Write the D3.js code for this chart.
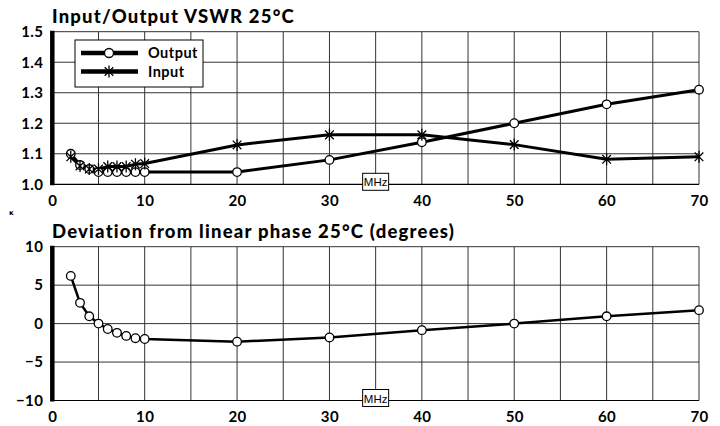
<!DOCTYPE html>
<html>
<head>
<meta charset="utf-8">
<script src="https://cdn.jsdelivr.net/npm/d3@7"></script>
<style>
  body { margin: 0; background: #fff; }
  svg { display: block; }
  .tick text { font-family: Lato, "DejaVu Sans", sans-serif; font-weight: 700; font-size: 15px; fill: #000; letter-spacing: 0.4px; }
  .title { font-family: Lato, "DejaVu Sans", sans-serif; font-weight: 900; font-size: 18.5px; letter-spacing: 1.2px; }
</style>
</head>
<body>
<div id="chart"></div>
<script>
// frequencies in MHz
var freq = [2, 3, 4, 5, 6, 7, 8, 9, 10, 20, 30, 40, 50, 60, 70];
// VSWR values
var vswrOut = [1.10, 1.063, 1.05, 1.04, 1.04, 1.04, 1.04, 1.04, 1.04, 1.04, 1.08, 1.138, 1.20, 1.262, 1.31];
var vswrIn  = [1.09, 1.06, 1.05, 1.05, 1.058, 1.058, 1.058, 1.066, 1.068, 1.129, 1.162, 1.162, 1.13, 1.082, 1.09];
// deviation from linear phase, degrees
var phaseDev = [6.2, 2.7, 0.95, 0, -0.7, -1.2, -1.6, -1.9, -2.0, -2.35, -1.8, -0.85, 0, 0.95, 1.75];

var xTicks = [0, 10, 20, 30, 40, 50, 60, 70];
var xGrid = d3.range(0, 71, 5);
var vswrTicks = [1.0, 1.1, 1.2, 1.3, 1.4, 1.5];
var phaseTicks = [-10, -5, 0, 5, 10];

var W = 720, H = 426;
var svg = d3.select("#chart").append("svg").attr("width", W).attr("height", H);

var x = d3.scaleLinear().domain([0, 70]).range([52.3, 699]);

// draw one panel
function panel(opts) {
  var y = d3.scaleLinear().domain(opts.domain).range([opts.bottom, opts.top]);
  var g = svg.append("g");

  // vertical grid
  g.append("g").selectAll("line").data(xGrid.slice(1)).enter().append("line")
    .attr("x1", function(d) { return x(d); }).attr("x2", function(d) { return x(d); })
    .attr("y1", opts.top).attr("y2", opts.bottom)
    .attr("stroke", "#333").attr("stroke-width", 1);
  // horizontal grid
  g.append("g").selectAll("line").data(opts.ticks.slice(1)).enter().append("line")
    .attr("x1", x(0)).attr("x2", x(70))
    .attr("y1", function(d) { return y(d); }).attr("y2", function(d) { return y(d); })
    .attr("stroke", "#333").attr("stroke-width", 1);
  // bottom axis line
  g.append("line").attr("x1", x(0)).attr("x2", x(70)).attr("y1", opts.bottom).attr("y2", opts.bottom)
    .attr("stroke", "#000").attr("stroke-width", 1.2);
  // thick left axis
  g.append("line").attr("x1", x(0)).attr("x2", x(0)).attr("y1", opts.top - 1).attr("y2", opts.bottom + 1)
    .attr("stroke", "#000").attr("stroke-width", 4.5);

  // tick labels
  var ay = d3.axisLeft(y).tickValues(opts.ticks).tickSize(0).tickPadding(9).tickFormat(opts.fmt);
  var gy = g.append("g").attr("transform", "translate(" + x(0) + ",0)").call(ay);
  gy.select(".domain").remove();

  var ax = d3.axisBottom(x).tickValues(xTicks).tickSize(0).tickPadding(11).tickFormat(d3.format("d"));
  var gx = g.append("g").attr("transform", "translate(0," + opts.bottom + ")").call(ax);
  gx.select(".domain").remove();

  // title
  g.append("text").attr("class", "title").attr("x", 52).attr("y", opts.top - 9).text(opts.title);

  // MHz box
  var mb = g.append("g").attr("transform", "translate(" + x(35) + "," + (opts.bottom - 2) + ")");
  mb.append("rect").attr("x", -13).attr("y", -9).attr("width", 26).attr("height", 17)
    .attr("fill", "#fff").attr("stroke", "#000").attr("stroke-width", 1);
  mb.append("text").attr("x", 0).attr("y", 4).attr("text-anchor", "middle")
    .attr("font-family", "Liberation Sans, Arial, sans-serif").attr("font-size", 11.5).text("MHz");

  return { g: g, y: y };
}

function drawLine(g, y, vals, w) {
  var line = d3.line().x(function(d, i) { return x(freq[i]); }).y(function(d) { return y(d); });
  g.append("path").datum(vals).attr("d", line)
    .attr("fill", "none").attr("stroke", "#000").attr("stroke-width", w).attr("stroke-linejoin", "round");
}

function drawCircles(g, y, vals) {
  g.append("g").selectAll("circle").data(vals).enter().append("circle")
    .attr("cx", function(d, i) { return x(freq[i]); }).attr("cy", function(d) { return y(d); })
    .attr("r", 4.3).attr("fill", "#fff").attr("stroke", "#000").attr("stroke-width", 1.3);
}

function starPath(cx, cy, s) {
  var d = s * 0.72;
  return "M" + (cx - d) + "," + (cy - d) + "L" + (cx + d) + "," + (cy + d) +
         "M" + (cx - d) + "," + (cy + d) + "L" + (cx + d) + "," + (cy - d) +
         "M" + cx + "," + (cy - s) + "L" + cx + "," + (cy + s);
}

function drawStars(g, y, vals) {
  g.append("g").selectAll("path").data(vals).enter().append("path")
    .attr("d", function(d, i) { return starPath(x(freq[i]), y(d), 6); })
    .attr("stroke", "#000").attr("stroke-width", 1.3).attr("fill", "none");
}

// top: VSWR
var p1 = panel({ domain: [1.0, 1.5], top: 31.7, bottom: 184.3, ticks: vswrTicks,
  fmt: d3.format(".1f"), title: "Input/Output VSWR 25°C" });
drawLine(p1.g, p1.y, vswrOut, 3);
drawLine(p1.g, p1.y, vswrIn, 3);
drawCircles(p1.g, p1.y, vswrOut);
drawStars(p1.g, p1.y, vswrIn);

// legend
var lg = p1.g.append("g");
lg.append("rect").attr("x", 75).attr("y", 40).attr("width", 128).attr("height", 47)
  .attr("fill", "#fff").attr("stroke", "#000").attr("stroke-width", 1);
var legendItems = ["Output", "Input"];
legendItems.forEach(function(name, i) {
  var ly = 53 + i * 18.5;
  lg.append("line").attr("x1", 81).attr("x2", 138).attr("y1", ly).attr("y2", ly)
    .attr("stroke", "#000").attr("stroke-width", 4.5);
  if (i === 0) {
    lg.append("circle").attr("cx", 109).attr("cy", ly).attr("r", 4.5)
      .attr("fill", "#fff").attr("stroke", "#000").attr("stroke-width", 1.3);
  } else {
    lg.append("path").attr("d", starPath(109, ly, 6)).attr("stroke", "#000").attr("stroke-width", 1.3);
  }
  lg.append("text").attr("x", 148).attr("y", ly + 5)
    .attr("font-family", "Lato, DejaVu Sans, sans-serif").attr("font-weight", 700).attr("font-size", 14.5)
    .attr("letter-spacing", 0.5).text(name);
});

// bottom: phase deviation
var p2 = panel({ domain: [-10, 10], top: 246.7, bottom: 400.5, ticks: phaseTicks,
  fmt: d3.format("d"), title: "Deviation from linear phase 25°C (degrees)" });
drawLine(p2.g, p2.y, phaseDev, 2.5);
drawCircles(p2.g, p2.y, phaseDev);

// small stray mark left of the lower title
svg.append("text").attr("x", 9).attr("y", 215).attr("font-size", 7).attr("font-family", "DejaVu Sans")
  .attr("font-weight", 700).text("ĸ");
</script>
</body>
</html>
